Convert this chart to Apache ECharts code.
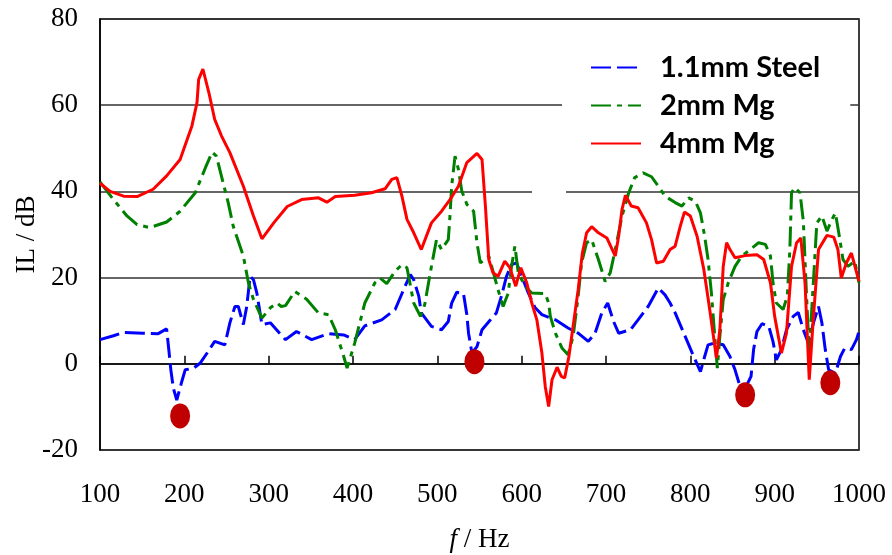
<!DOCTYPE html>
<html>
<head>
<meta charset="utf-8">
<script src="https://cdn.jsdelivr.net/npm/echarts@6/dist/echarts.min.js"></script>
<style>html,body{margin:0;padding:0;background:#fff}#c{width:892px;height:555px}</style>
</head>
<body>
<div id="c"></div>
<script>
const seriesNames = ['1.1mm Steel', '2mm Mg', '4mm Mg'];
const xTicks = { min: 100, max: 1000, interval: 100 };
const yTicks = { min: -20, max: 80, interval: 20 };

const steel = [[100,5.6],[116,6.5],[128,7.3],[151,7.1],[169,7],[179,8.1],[182,2.5],[184,-1.4],[187,-5.7],[191,-8.4],[197,-4.1],[201,-1.4],[211,-1],[219,0.2],[227,2.5],[236,5.2],[248,4.4],[254,9.5],[260,13.3],[264,13.3],[270,9.1],[274,13.3],[278,20.3],[282,19.5],[286,16.4],[292,9.1],[302,9.5],[313,7.1],[320,5.6],[333,7.5],[351,5.6],[371,7],[389,6.7],[402,5.6],[414,8.8],[434,10.2],[450,12.6],[460,17.2],[468,20.7],[472,19.5],[478,15.7],[481,11.8],[493,8.7],[505,7.9],[513,9.8],[517,14.1],[523,16.6],[531,16.3],[535,11.4],[537,7.1],[541,2.5],[547,4],[553,7.9],[563,10.2],[570,11.8],[576,15.7],[582,20.3],[588,23],[594,23.4],[600,20.3],[608,16.4],[616,13],[624,11.4],[640,10.2],[655,8.3],[667,7.1],[679,5.2],[687,7.1],[695,11.8],[702,14.1],[709,9.8],[715,7.1],[729,7.9],[738,10.2],[750,13.3],[762,17.6],[770,16],[776,14.1],[782,11.8],[794,6.3],[804,1.7],[812,-1.8],[817,1.7],[821,4.4],[829,4.8],[839,4.4],[847,1.7],[853,-1.4],[859,-5.3],[867,-4.9],[872,-2.9],[875,3.3],[879,7.5],[885,9.3],[893,8.7],[898,5.2],[902,0.9],[908,3.3],[914,7.9],[922,11],[928,11.9],[934,7.9],[940,4.8],[946,9.5],[952,13.3],[956,9.5],[960,3.3],[964,-1.4],[972,-2.2],[978,1.7],[983,3.6],[991,3.3],[997,5.6],[1000,7.5]];

const mg2 = [[100,42.2],[116,38.1],[132,34.3],[144,32.3],[159,31.6],[179,32.9],[195,35.4],[213,39.7],[225,45.5],[233,49.1],[238,48.2],[246,42],[252,37.4],[258,31.9],[270,25],[276,18.8],[282,14.9],[292,10.6],[302,13],[310,14.1],[315,13.3],[320,13.5],[331,16.8],[345,15],[359,11.8],[371,11.4],[379,7.9],[389,1.7],[393,-1],[402,4.8],[414,14.1],[426,18.8],[432,19.9],[440,18.6],[450,21.5],[458,23],[464,22.3],[472,14.1],[480,11],[485,13.7],[493,22.6],[499,28.8],[505,26.5],[513,28.8],[515,34.3],[517,41.2],[521,48.2],[525,45.1],[529,40.1],[535,37],[543,35.4],[547,28.1],[551,23.4],[561,25],[566,21.5],[572,17.2],[578,13.3],[584,16.4],[588,22.6],[592,27.3],[596,21.1],[604,18],[612,16.4],[628,16.3],[632,14.1],[634,11],[640,7.1],[648,3.6],[655,2.1],[661,6.3],[667,15.7],[671,23.4],[677,28.1],[683,28.8],[691,24.2],[699,19.1],[705,21.1],[711,26.5],[719,34.3],[727,39.7],[734,43.2],[744,44.3],[754,43.4],[762,41.2],[770,38.9],[782,37.4],[790,36.6],[798,38.5],[806,37.7],[812,35],[817,29.6],[821,24.2],[825,16.4],[829,6.3],[832,-1],[835,6.3],[839,14.9],[845,18.8],[853,22.6],[861,25],[871,26.5],[881,28.1],[889,27.7],[895,25],[898,18.8],[902,14.1],[910,12.6],[915,15.7],[918,26.5],[920,39.7],[924,40.9],[930,39.7],[934,33.1],[938,14.9],[941,2.5],[944,12.6],[950,32.7],[956,34.3],[962,30.8],[968,33.5],[972,35],[976,30.4],[981,24.2],[987,22.6],[995,23.8],[1000,18.8]];

const mg4 = [[100,41.9],[112,40],[128,38.9],[144,38.8],[163,40.5],[179,43.6],[195,47.4],[209,55.2],[215,60.6],[217,66],[222,68.4],[229,63],[236,56.7],[244,52.9],[254,49],[270,41.2],[282,34.3],[292,29],[306,32.7],[322,36.5],[339,38.1],[359,38.5],[369,37.5],[379,38.8],[402,39.1],[422,39.7],[438,40.6],[446,42.8],[452,43.2],[458,38.9],[464,33.5],[472,30.4],[481,26.5],[493,32.7],[505,35.4],[515,38.1],[525,41.2],[535,46.7],[547,48.8],[553,47.4],[557,36.6],[561,24.2],[566,21.1],[572,20.3],[580,23.8],[586,22.3],[593,18],[599,22.3],[606,18.8],[612,14.1],[618,10.2],[624,2.5],[628,-5.3],[632,-9.9],[636,-3.7],[642,-0.8],[647,-2.9],[651,-3.3],[656,1.7],[661,8.7],[667,17.2],[672,25.7],[677,30.4],[683,31.8],[691,30.4],[701,29.2],[711,25],[715,29.6],[719,35.8],[723,39.1],[730,36.6],[738,36.2],[748,32.7],[754,28.8],[760,23.4],[768,23.8],[776,26.5],[782,27.3],[788,31.9],[793,35.2],[800,34.3],[808,29.6],[816,21.9],[823,12.6],[831,1.3],[835,7.9],[839,22.6],[843,28.1],[847,26.5],[853,24.6],[865,25.1],[879,25.3],[887,24.2],[895,18.8],[900,11],[908,2.5],[914,7.1],[920,22.6],[926,28.1],[931,29.2],[936,18.8],[941,-3.7],[946,11],[952,26.5],[962,29.8],[970,29.4],[975,26.5],[979,19.9],[985,23.4],[991,25.7],[1000,19.1]];

const dips = [[195,-12.1],[544,0.5],[865,-7.2],[966,-4.4]];

const chart = echarts.init(document.getElementById('c'), null, { renderer: 'canvas' });
const serif = 'Liberation Serif';
chart.setOption({
  animation: false,
  backgroundColor: '#fff',
  grid: { left: 100, right: 33, top: 19, bottom: 105, show: true, borderColor: '#000', borderWidth: 1.5, backgroundColor: 'transparent', containLabel: false, outerBoundsMode: 'none' },
  xAxis: {
    type: 'value', min: xTicks.min, max: xTicks.max, interval: xTicks.interval,
    axisLine: { show: true, lineStyle: { color: '#000', width: 1.5 } },
    axisTick: { show: true, inside: true, length: 8, lineStyle: { color: '#000', width: 1.5 } },
    splitLine: { show: false },
    axisLabel: { color: '#000', fontFamily: serif, fontSize: 27, margin: 31, formatter: v => String(v) },
    name: '{i|f} / Hz', nameLocation: 'middle', nameGap: 76, nameMoveOverlap: false,
    nameTextStyle: { color: '#000', fontFamily: serif, fontSize: 27, rich: { i: { fontStyle: 'italic', fontFamily: serif, fontSize: 27, color: '#000' } } }
  },
  yAxis: {
    type: 'value', min: yTicks.min, max: yTicks.max, interval: yTicks.interval,
    axisLine: { show: true, lineStyle: { color: '#000', width: 1.5 } },
    axisTick: { show: false },
    splitLine: { show: true, lineStyle: { color: '#333', width: 1.5 } },
    axisLabel: { color: '#000', fontFamily: serif, fontSize: 27, margin: 22 },
    name: 'IL / dB', nameLocation: 'middle', nameGap: 60, nameRotate: 90, nameMoveOverlap: false,
    nameTextStyle: { color: '#000', fontFamily: serif, fontSize: 27 }
  },
  legend: {
    data: seriesNames, orient: 'vertical', left: 562, top: 39,
    backgroundColor: '#fff', padding: [14, 30, 14, 28],
    itemWidth: 50, itemHeight: 14, itemGap: 9,
    itemStyle: { opacity: 0 },
    textStyle: { color: '#000', fontFamily: 'Lato', fontWeight: 'bold', fontSize: 29, lineHeight: 28, padding: [0, 0, 0, 14] }
  },
  graphic: [{ type: 'rect', shape: { x: 532, y: 189, width: 34, height: 5 }, style: { fill: '#fff' }, z: 1 }],
  series: [
    { name: seriesNames[0], type: 'line', data: steel, showSymbol: false, symbol: 'none', z: 3,
      lineStyle: { color: '#0000ff', width: 3, type: [20, 6] }, itemStyle: { color: '#0000ff' } },
    { name: seriesNames[1], type: 'line', data: mg2, showSymbol: false, symbol: 'none', z: 4,
      lineStyle: { color: '#008000', width: 3, type: [20, 6, 5, 6] }, itemStyle: { color: '#008000' } },
    { name: seriesNames[2], type: 'line', data: mg4, showSymbol: false, symbol: 'none', z: 5,
      lineStyle: { color: '#ff0000', width: 3 }, itemStyle: { color: '#ff0000' } },
    { name: 'dips', type: 'scatter', data: dips, symbol: 'circle', symbolSize: [20, 25], z: 6,
      itemStyle: { color: '#c00000', opacity: 1 } }
  ]
});
</script>
</body>
</html>
